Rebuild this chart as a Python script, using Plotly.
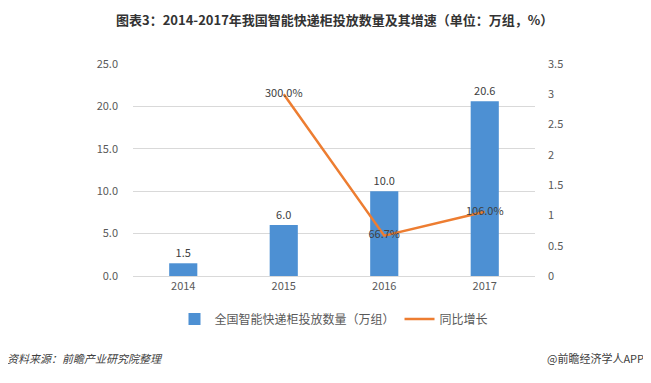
import plotly.graph_objects as go

years = ["2014", "2015", "2016", "2017"]
volume = [1.5, 6.0, 10.0, 20.6]
growth_years = ["2015", "2016", "2017"]
growth_pct = [300.0, 66.7, 106.0]
left_ticks = [0, 5, 10, 15, 20, 25]
right_ticks = [0, 0.5, 1, 1.5, 2, 2.5, 3, 3.5]

FONT = "Noto Sans CJK SC"
TICK_COLOR = "#595959"
OFF = 8  # default body margin of the page

fig = go.Figure()
fig.add_trace(go.Bar(
    x=years, y=volume, name="全国智能快递柜投放数量（万组）",
    marker=dict(color="#4d90d3", line=dict(width=0)),
    width=0.28,
    text=[f"{v:.1f}" for v in volume], textposition="outside",
    textfont=dict(size=11, color="#404040", family=FONT),
    cliponaxis=False,
))
fig.add_trace(go.Scatter(
    x=growth_years, y=[g / 100 for g in growth_pct], name="同比增长",
    yaxis="y2", mode="lines+text",
    line=dict(color="#ed7d31", width=2.5),
    text=[f"{g:.1f}%" for g in growth_pct], textposition="middle center",
    textfont=dict(size=11, color="#404040", family=FONT),
    cliponaxis=False,
))

fig.update_layout(
    width=651 - OFF, height=383 - OFF,
    margin=dict(l=133 - OFF, r=116, t=64 - OFF, b=107, autoexpand=False),
    paper_bgcolor="white", plot_bgcolor="white",
    font=dict(family=FONT, color=TICK_COLOR, size=11),
    showlegend=True,
    legend=dict(orientation="h", x=0.5, xanchor="center",
                yref="container", y=1 - (319 - OFF) / (383 - OFF), yanchor="middle",
                font=dict(size=12, color=TICK_COLOR), tracegroupgap=0),
    xaxis=dict(type="category", showgrid=False, showline=True, linecolor="#d9d9d9",
               ticks="", tickfont=dict(size=11, color=TICK_COLOR), automargin=False),
    yaxis=dict(range=[0, 25], tickvals=left_ticks, ticktext=[f"{t:.1f}" for t in left_ticks],
               showgrid=True, gridcolor="#d9d9d9", gridwidth=1, zeroline=False,
               tickfont=dict(size=11, color=TICK_COLOR), ticks="",
               ticklabelstandoff=14, automargin=False),
    yaxis2=dict(range=[0, 3.5], tickvals=right_ticks, ticktext=[f"{t:g}" for t in right_ticks],
                overlaying="y", side="right", showgrid=False, zeroline=False,
                tickfont=dict(size=11, color=TICK_COLOR), ticks="", ticklabelstandoff=12,
                automargin=False),
    annotations=[
        dict(text="<b>图表3：2014-2017年我国智能快递柜投放数量及其增速（单位：万组，%）</b>",
             xref="paper", yref="paper", x=0.5, y=0, xanchor="center", yanchor="middle",
             yshift=276 - 19, showarrow=False,
             font=dict(size=13, color="#333333", family=FONT)),
        dict(text="<i>资料来源：前瞻产业研究院整理</i>", xref="paper", yref="paper",
             x=0, y=0, xanchor="left", yanchor="middle", xshift=-133 + 5, yshift=-(358 - 276),
             showarrow=False, font=dict(size=11, color="#404040", family=FONT)),
        dict(text="@前瞻经济学人APP", xref="paper", yref="paper",
             x=1, y=0, xanchor="right", yanchor="middle", xshift=116 - 5, yshift=-(358 - 276),
             showarrow=False, font=dict(size=11, color="#404040", family=FONT)),
    ],
)

fig.write_html("out.html")
